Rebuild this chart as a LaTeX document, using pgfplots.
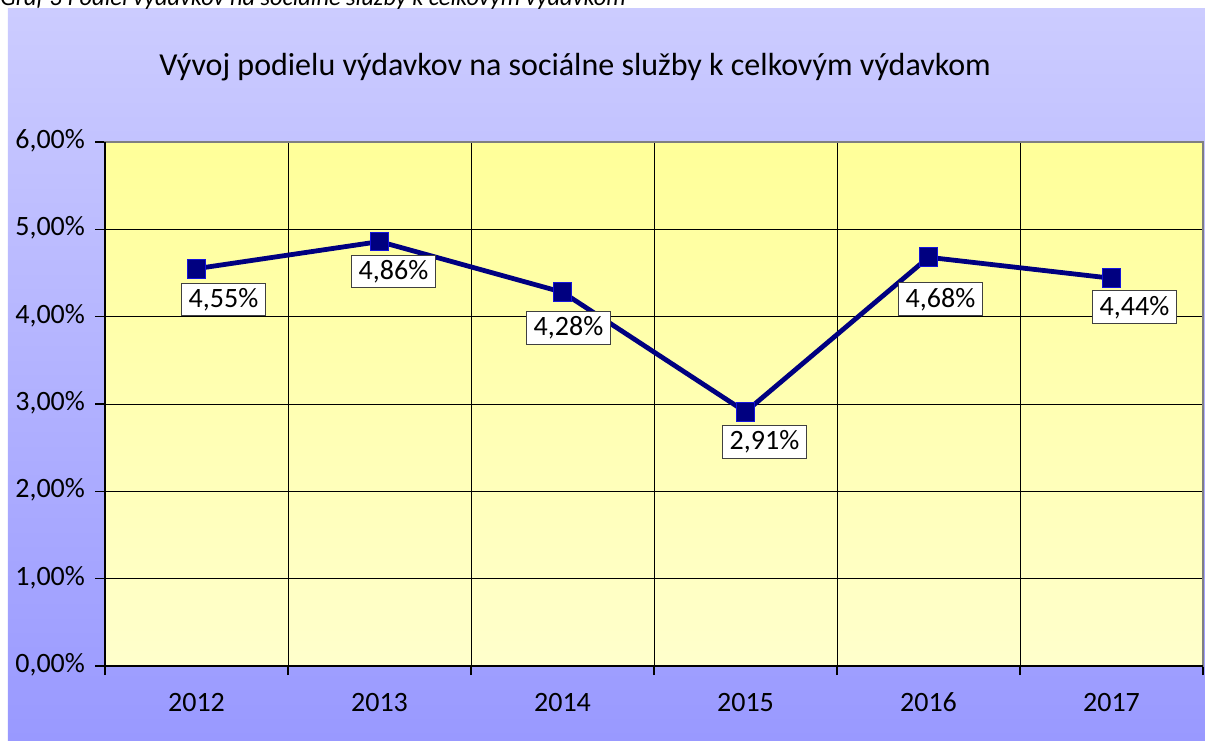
\documentclass[border=0pt]{standalone}
\usepackage{fontspec}
\setmainfont{Carlito}
\usepackage{pgfplots}
\pgfplotsset{compat=1.18}
\usepackage{pgfplotstable}

\definecolor{navyline}{RGB}{0,0,128}
\definecolor{markblue}{RGB}{20,20,220}
\definecolor{bgtop}{RGB}{204,204,255}
\definecolor{bgbot}{RGB}{153,153,255}
\definecolor{plottop}{RGB}{255,255,153}
\definecolor{plotbot}{RGB}{255,255,204}
\definecolor{labelgray}{RGB}{64,64,64}
\definecolor{bordergray}{RGB}{128,128,128}

% share of social services in total expenditure (%), label offsets in pt
\pgfplotstableread{
x y dx dy
1 4.55 13.5 -15.5
2 4.86 7 -15
3 4.28 3 -18
4 2.91 9.5 -15
5 4.68 6 -21
6 4.44 11.5 -14.5
}\datatable

\begin{document}
\begin{tikzpicture}
\useasboundingbox (-52.5pt,-37pt) rectangle (550pt,333pt);
\shade[top color=bgtop, bottom color=bgbot] (-48.5pt,-37pt) rectangle (550pt,328.5pt);
\begin{scope}
  \clip (-52.5pt,-37pt) rectangle (550pt,333pt);
  \node[anchor=base west, inner sep=0pt, font=\fontsize{12.2}{14}\selectfont\itshape]
    at (-52.5pt,330pt) {Graf 3 Podiel výdavkov na sociálne služby k celkovým výdavkom};
\end{scope}
\node[anchor=base, inner sep=0pt, font=\fontsize{16}{19}\selectfont]
  at (235pt,295pt) {Vývoj podielu výdavkov na sociálne služby k celkovým výdavkom};

\begin{axis}[
    at={(0,0)}, anchor=south west,
    scale only axis,
    width=549pt, height=262pt,
    xmin=0.5, xmax=6.5, ymin=0, ymax=6,
    xtick={1,...,6},
    xticklabels={2012,2013,2014,2015,2016,2017},
    minor xtick={0.5,1.5,...,6.5},
    ytick={0,...,6},
    yticklabels={{0,00\%},{1,00\%},{2,00\%},{3,00\%},{4,00\%},{5,00\%},{6,00\%}},
    tick align=outside,
    xtick pos=bottom, ytick pos=left,
    every major x tick/.style={draw=none},
    major tick length=5pt, minor tick length=4.5pt,
    tick style={black, line width=0.6pt},
    ymajorgrids, xminorgrids,
    major grid style={black, line width=0.5pt},
    minor grid style={black, line width=0.5pt},
    axis line style={draw=bordergray, line width=1.2pt},
    axis background/.style={top color=plottop, bottom color=plotbot},
    ticklabel style={font=\fontsize{14}{16}\selectfont, text=black},
    typeset ticklabels with strut,
    xticklabel style={yshift=-3pt},
    yticklabel style={xshift=-1.5pt},
    /pgf/number format/assume math mode=true,
    clip=false,
]
\addplot[navyline, line width=2.4pt, mark=square*, mark size=4.7pt,
    mark options={fill=navyline, draw=markblue, line width=0.5pt},
    visualization depends on={\thisrow{dx}\as\dx},
    visualization depends on={\thisrow{dy}\as\dy},
    nodes near coords={\pgfmathprintnumber[fixed,fixed zerofill,precision=2,use comma]{\pgfplotspointmeta}\%},
    every node near coord/.append style={anchor=center, xshift=\dx pt, yshift=\dy pt,
        fill=white, draw=labelgray, line width=0.5pt, text=black,
        font=\fontsize{14}{16}\selectfont, inner xsep=3.5pt, inner ysep=2.5pt}
] table[x=x, y=y] {\datatable};
\draw[black, line width=0.8pt] (rel axis cs:0,1) -- (rel axis cs:0,0) -- (rel axis cs:1,0);
\end{axis}
\end{tikzpicture}
\end{document}
